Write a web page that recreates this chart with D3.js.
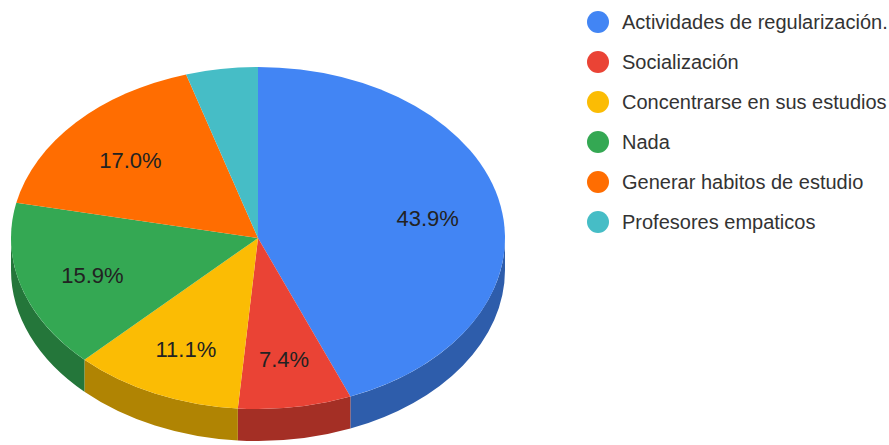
<!DOCTYPE html>
<html>
<head>
<meta charset="utf-8">
<script src="https://cdn.jsdelivr.net/npm/d3@7"></script>
<style>
	body { margin: 0; background: #fff; }
	svg { display: block; font-family: Arial, 'Liberation Sans', sans-serif; }
</style>
</head>
<body>
<div id="chart"></div>
<script>
// data
const categories = [
	'Actividades de regularización.',
	'Socialización',
	'Concentrarse en sus estudios',
	'Nada',
	'Generar habitos de estudio',
	'Profesores empaticos'
];
const values = [43.9, 7.4, 11.1, 15.9, 17.0, 4.7];
const colors = ['#4285f4', '#ea4335', '#fbbc04', '#34a853', '#ff6d01', '#46bdc6'];

// dimension stuff
const width = 889;
const height = 445;
const cx = 258;
const cy = 238;
const rx = 247;
const ry = 171;
const depth = 32;

const $svg = d3.select('#chart').append('svg')
	.attr('width', width)
	.attr('height', height);

const pie = d3.pie().sort(null).value(d => d.value);
const arcs = pie(values.map((v, i) => ({ value: v, i })));

// point on the tilted rim, angle clockwise from 12 o'clock
const pt = (a, dy = 0) => [cx + rx * Math.sin(a), cy - ry * Math.cos(a) + dy];

function topPath(d) {
	const p0 = pt(d.startAngle);
	const p1 = pt(d.endAngle);
	const large = d.endAngle - d.startAngle > Math.PI ? 1 : 0;
	return `M${cx},${cy}L${p0}A${rx},${ry} 0 ${large} 1 ${p1}Z`;
}

function sidePath(d) {
	const s = Math.max(d.startAngle, Math.PI / 2);
	const e = Math.min(d.endAngle, Math.PI * 1.5);
	if (e <= s) return null;
	const a = pt(s), b = pt(e), c = pt(e, depth), f = pt(s, depth);
	return `M${a}A${rx},${ry} 0 0 1 ${b}L${c}A${rx},${ry} 0 0 0 ${f}Z`;
}

const darker = c => {
	const r = d3.rgb(c);
	return d3.rgb(r.r * 0.7, r.g * 0.7, r.b * 0.7).toString();
};

// sides first, then the top faces
$svg.append('g').attr('class', 'sides')
	.selectAll('path')
	.data(arcs.filter(d => sidePath(d)))
	.join('path')
	.attr('d', sidePath)
	.attr('fill', d => darker(colors[d.data.i]));

$svg.append('g').attr('class', 'tops')
	.selectAll('path')
	.data(arcs)
	.join('path')
	.attr('d', topPath)
	.attr('fill', d => colors[d.data.i]);

// slice labels
$svg.append('g').attr('class', 'labels')
	.selectAll('text')
	.data(arcs.filter(d => d.data.value >= 5))
	.join('text')
	.attr('x', d => cx + 0.7 * rx * Math.sin((d.startAngle + d.endAngle) / 2))
	.attr('y', d => cy - 0.7 * ry * Math.cos((d.startAngle + d.endAngle) / 2) + 3)
	.attr('text-anchor', 'middle')
	.attr('dominant-baseline', 'central')
	.attr('font-size', 22)
	.attr('fill', '#222')
	.text(d => d.data.value.toFixed(1) + '%');

// legend
const $legend = $svg.append('g').attr('class', 'legend')
	.selectAll('g')
	.data(categories)
	.join('g')
	.attr('transform', (d, i) => `translate(598, ${22 + i * 40})`);

$legend.append('circle')
	.attr('r', 11)
	.attr('fill', (d, i) => colors[i]);

$legend.append('text')
	.attr('x', 24)
	.attr('dominant-baseline', 'central')
	.attr('font-size', 20)
	.attr('fill', '#333')
	.text(d => d);
</script>
</body>
</html>
